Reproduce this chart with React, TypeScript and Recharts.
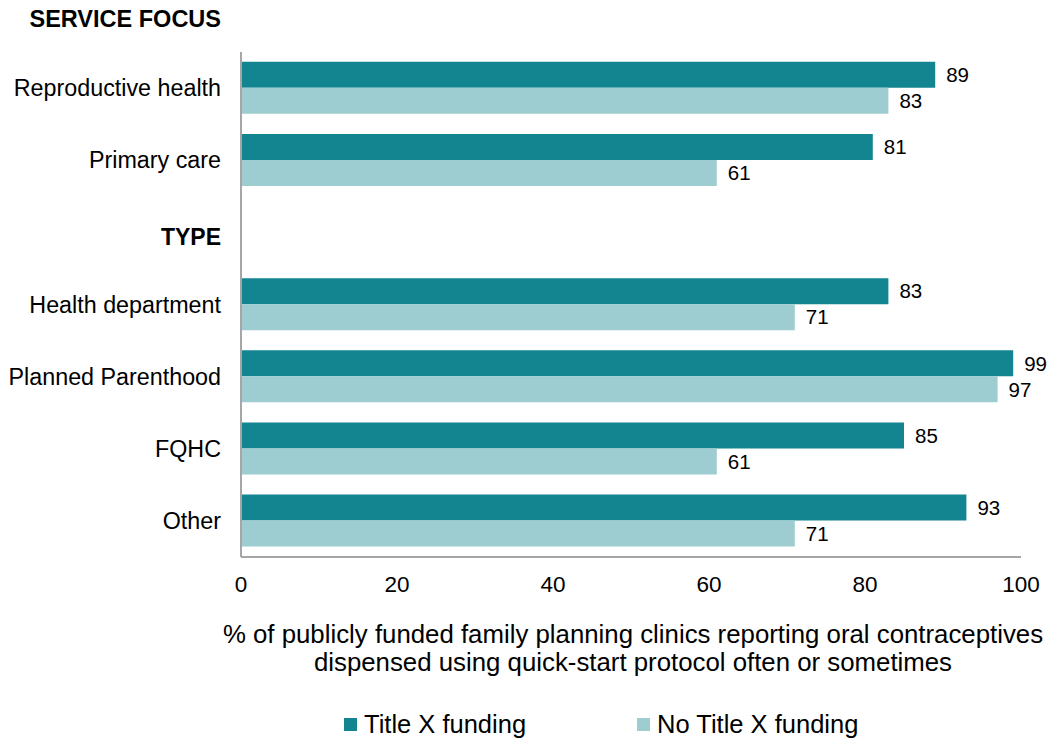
import { Bar, BarChart, LabelList, Label, Legend, XAxis, YAxis } from 'recharts';

const categories = [
  'Reproductive health',
  'Primary care',
  'TYPE',
  'Health department',
  'Planned Parenthood',
  'FQHC',
  'Other',
];
const titleX = [89, 81, null, 83, 99, 85, 93];
const noTitleX = [83, 61, null, 71, 97, 61, 71];
const headerRows = ['TYPE'];
const topHeader = 'SERVICE FOCUS';
const xTicks = [0, 20, 40, 60, 80, 100];
const axisTitle = [
  '% of publicly funded family planning clinics reporting oral contraceptives',
  'dispensed using quick-start protocol often or sometimes',
];
const seriesNames = ['Title X funding', 'No Title X funding'];

const DARK = '#138591';
const LIGHT = '#9ECDD1';
const AXIS = '#a6a6a6';

const data = categories.map((name, i) => ({ name, titleX: titleX[i], noTitleX: noTitleX[i] }));

function CategoryTick({ x, y, payload }: any) {
  const header = headerRows.includes(payload.value);
  return (
    <text
      x={x}
      y={y}
      dy={header ? '0.55em' : '0.355em'}
      textAnchor="end"
      fontSize={header ? 23 : 23.3}
      fontWeight={header ? 700 : 400}
      fill="#000"
    >
      {payload.value}
    </text>
  );
}

function SectionTitle({ viewBox }: any) {
  return (
    <text x={viewBox.x + viewBox.width - 20} y={27} textAnchor="end" fontSize={23.5} fontWeight={700} fill="#000">
      {topHeader}
    </text>
  );
}

function XTitle({ viewBox }: any) {
  const cx = viewBox.x + viewBox.width / 2 + 2;
  return (
    <text textAnchor="middle" fontSize={25.8} fill="#000">
      {axisTitle.map((line, i) => (
        <tspan key={i} x={cx} y={643 + i * 28}>
          {line}
        </tspan>
      ))}
    </text>
  );
}

// legend order follows the series order, not the reversed vertical payload
function LegendContent({ payload }: any) {
  const colorOf = (name: string) => (payload || []).find((p: any) => p.value === name)?.color;
  return (
    <div style={{ display: 'flex', alignItems: 'center', fontSize: 25.5, lineHeight: '29px', color: '#000' }}>
      {seriesNames.map((name, i) => (
        <div key={name} style={{ display: 'flex', alignItems: 'center', marginLeft: i ? 111 : 0 }}>
          <span style={{ width: 13, height: 13, background: colorOf(name), marginRight: 7, display: 'inline-block' }} />
          <span>{name}</span>
        </div>
      ))}
    </div>
  );
}

export default function App() {
  return (
    <div
      style={{
        position: 'absolute',
        left: 0,
        top: 0,
        width: 1051,
        height: 743,
        background: '#fff',
        fontFamily: '"Liberation Sans", Arial, sans-serif',
      }}
    >
      <BarChart
        width={1051}
        height={743}
        data={data}
        layout="vertical"
        margin={{ top: 52, right: 30, bottom: 0, left: 0 }}
        barCategoryGap="13.5%"
        barGap={0}
      >
        <XAxis
          type="number"
          domain={[0, 100]}
          ticks={xTicks}
          height={186}
          tickLine={false}
          tickSize={0}
          tickMargin={19}
          axisLine={{ stroke: AXIS, strokeWidth: 2 }}
          tick={{ fontSize: 22.5, fill: '#000' }}
        >
          <Label content={<XTitle />} />
        </XAxis>
        <YAxis
          type="category"
          dataKey="name"
          width={241}
          tickLine={false}
          tickSize={0}
          tickMargin={20}
          axisLine={{ stroke: AXIS, strokeWidth: 2 }}
          tick={<CategoryTick />}
          interval={0}
        >
          <Label content={<SectionTitle />} />
        </YAxis>
        <Legend
          layout="horizontal"
          verticalAlign="middle"
          align="center"
          content={<LegendContent />}
          wrapperStyle={{ left: 344, top: 710, width: 700 }}
        />
        <Bar dataKey="titleX" name={seriesNames[0]} fill={DARK} isAnimationActive={false}>
          <LabelList dataKey="titleX" position="right" offset={11} fontSize={20.5} fill="#000" />
        </Bar>
        <Bar dataKey="noTitleX" name={seriesNames[1]} fill={LIGHT} isAnimationActive={false}>
          <LabelList dataKey="noTitleX" position="right" offset={11} fontSize={20.5} fill="#000" />
        </Bar>
      </BarChart>
    </div>
  );
}
